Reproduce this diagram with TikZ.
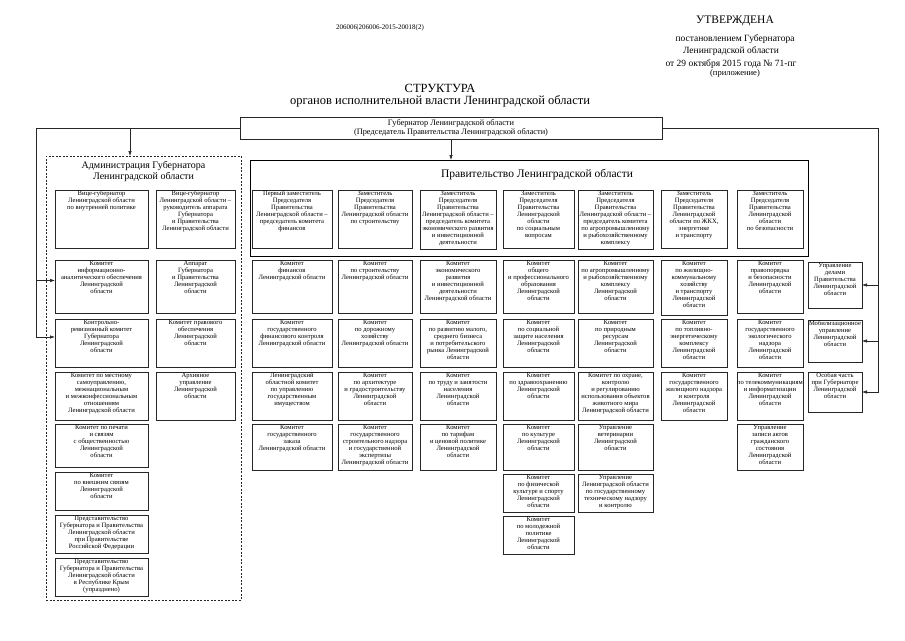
\documentclass[tikz,border=0pt]{standalone}
\usepackage{fontspec}
\setmainfont{Liberation Serif}
\usetikzlibrary{arrows.meta}
\newcommand\obox[6]{%
  \node[obx, minimum width={(#4-#2)*1pt}, minimum height={(#5-#3)*1pt}, anchor=north west,
    label={[obtxt]north:{#6}}] (#1) at (#2,#3) {};}
\begin{document}
\begin{tikzpicture}[x=1pt,y=-1pt,
  obx/.style={draw=black!85, line width=0.6pt, inner sep=0pt, outer sep=0pt},
  obtxt/.style={anchor=north, align=center, inner sep=0.8pt, font=\fontsize{6.6}{7.0}\selectfont},
  ln/.style={line width=0.6pt, draw=black!85},
  arr/.style={ln, -{Latex[length=5pt,width=3.5pt]}},
  hdr/.style={inner sep=0pt, font=\fontsize{9.5}{10}\selectfont}
]
\useasboundingbox[fill=white] (0,0) rectangle (905,640);

% header
\node[inner sep=0pt, font=\fontsize{7}{7.5}\selectfont] (num) at (380,28) {206006|206006-2015-20018(2)};
\node[hdr, font=\fontsize{11.5}{12}\selectfont] (utv) at (735,21) {УТВЕРЖДЕНА};
\node[hdr] (p1) at (735,39) {постановлением Губернатора};
\node[hdr] (p2) at (731,51) {Ленинградской области};
\node[hdr] (p3) at (731,64) {от 29 октября 2015 года № 71-пг};
\node[hdr, font=\fontsize{8.5}{9}\selectfont] (p4) at (735,73) {(приложение)};
\node[hdr, font=\fontsize{12.5}{13}\selectfont] (t1) at (440,88) {СТРУКТУРА};
\node[hdr, font=\fontsize{12.5}{13}\selectfont] (t2) at (440,101) {органов исполнительной власти Ленинградской области};

% governor
\node[obx, minimum width=422pt, minimum height=22pt, anchor=north west, align=center,
  font=\fontsize{8.3}{9.8}\selectfont] (gub) at (240,117)
  {Губернатор Ленинградской области\\(Председатель Правительства Ленинградской области)};

% administration (dashed)
\node[obx, dashed, dash pattern=on 2pt off 1.5pt, minimum width=195pt, minimum height=444pt, anchor=north west,
  label={[anchor=north, align=center, inner sep=0pt, yshift=-5pt, font=\fontsize{10}{11.5}\selectfont]north:{Администрация Губернатора\\Ленинградской области}}]
  (adm) at (46,156) {};

% government
\node[obx, draw=black, line width=0.9pt, minimum width=558pt, minimum height=96pt, anchor=north west,
  label={[anchor=north, inner sep=0pt, yshift=-9pt, xshift=8pt, font=\fontsize{11.5}{12}\selectfont]north:{Правительство Ленинградской области}}]
  (pr) at (250,160) {};

% administration boxes
\obox{a1l}{55}{190}{148}{248}{Вице-губернатор\\Ленинградской области\\по внутренней политике}
\obox{a1r}{156}{190}{235}{248}{Вице-губернатор\\Ленинградской области –\\руководитель аппарата\\Губернатора\\и Правительства\\Ленинградской области}
\obox{a2l}{55}{260}{148}{313}{Комитет\\информационно-\\аналитического обеспечения\\Ленинградской\\области}
\obox{a2r}{156}{260}{235}{313}{Аппарат\\Губернатора\\и Правительства\\Ленинградской\\области}
\obox{a3l}{55}{319}{148}{367}{Контрольно-\\ревизионный комитет\\Губернатора\\Ленинградской\\области}
\obox{a3r}{156}{319}{235}{367}{Комитет правового\\обеспечения\\Ленинградской\\области}
\obox{a4l}{55}{372}{148}{420}{Комитет по местному\\самоуправлению,\\межнациональным\\и межконфессиональным\\отношениям\\Ленинградской области}
\obox{a4r}{156}{372}{235}{420}{Архивное\\управление\\Ленинградской\\области}
\obox{a5l}{55}{424}{148}{467}{Комитет по печати\\и связям\\с общественностью\\Ленинградской\\области}
\obox{a6l}{55}{472}{148}{510}{Комитет\\по внешним связям\\Ленинградской\\области}
\obox{a7l}{55}{515}{148}{553}{Представительство\\Губернатора и Правительства\\Ленинградской области\\при Правительстве\\Российской Федерации}
\obox{a8l}{55}{558}{148}{596}{Представительство\\Губернатора и Правительства\\Ленинградской области\\в Республике Крым\\(упразднено)}

% government row 1
\obox{g11}{252}{190}{332}{248}{Первый заместитель\\Председателя\\Правительства\\Ленинградской области –\\председатель комитета\\финансов}
\obox{g12}{338}{190}{412}{248}{Заместитель\\Председателя\\Правительства\\Ленинградской области\\по строительству}
\obox{g13}{420}{190}{496}{249}{Заместитель\\Председателя\\Правительства\\Ленинградской области –\\председатель комитета\\экономического развития\\и инвестиционной\\деятельности}
\obox{g14}{503}{190}{574}{248}{Заместитель\\Председателя\\Правительства\\Ленинградской\\области\\по социальным\\вопросам}
\obox{g15}{578}{190}{653}{249}{Заместитель\\Председателя\\Правительства\\Ленинградской области –\\председатель комитета\\по агропромышленному\\и рыбохозяйственному\\комплексу}
\obox{g16}{661}{190}{727}{248}{Заместитель\\Председателя\\Правительства\\Ленинградской\\области по ЖКХ,\\энергетике\\и транспорту}
\obox{g17}{737}{190}{803}{248}{Заместитель\\Председателя\\Правительства\\Ленинградской\\области\\по безопасности}

% row 2
\obox{g21}{252}{260}{332}{313}{Комитет\\финансов\\Ленинградской области}
\obox{g22}{338}{260}{412}{313}{Комитет\\по строительству\\Ленинградской области}
\obox{g23}{420}{260}{496}{313}{Комитет\\экономического\\развития\\и инвестиционной\\деятельности\\Ленинградской области}
\obox{g24}{503}{260}{574}{313}{Комитет\\общего\\и профессионального\\образования\\Ленинградской\\области}
\obox{g25}{578}{260}{653}{313}{Комитет\\по агропромышленному\\и рыбохозяйственному\\комплексу\\Ленинградской\\области}
\obox{g26}{661}{260}{727}{315}{Комитет\\по жилищно-\\коммунальному\\хозяйству\\и транспорту\\Ленинградской\\области}
\obox{g27}{737}{260}{803}{313}{Комитет\\правопорядка\\и безопасности\\Ленинградской\\области}
\obox{g28}{808}{262}{862}{308}{Управление\\делами\\Правительства\\Ленинградской\\области}

% row 3
\obox{g31}{252}{319}{332}{367}{Комитет\\государственного\\финансового контроля\\Ленинградской области}
\obox{g32}{338}{319}{412}{367}{Комитет\\по дорожному\\хозяйству\\Ленинградской области}
\obox{g33}{420}{319}{496}{367}{Комитет\\по развитию малого,\\среднего бизнеса\\и потребительского\\рынка Ленинградской\\области}
\obox{g34}{503}{319}{574}{367}{Комитет\\по социальной\\защите населения\\Ленинградской\\области}
\obox{g35}{578}{319}{653}{367}{Комитет\\по природным\\ресурсам\\Ленинградской\\области}
\obox{g36}{661}{319}{727}{367}{Комитет\\по топливно-\\энергетическому\\комплексу\\Ленинградской\\области}
\obox{g37}{737}{319}{803}{367}{Комитет\\государственного\\экологического\\надзора\\Ленинградской\\области}
\obox{g38}{808}{320}{862}{362}{Мобилизационное\\управление\\Ленинградской\\области}

% row 4
\obox{g41}{252}{372}{332}{420}{Ленинградский\\областной комитет\\по управлению\\государственным\\имуществом}
\obox{g42}{338}{372}{412}{420}{Комитет\\по архитектуре\\и градостроительству\\Ленинградской\\области}
\obox{g43}{420}{372}{496}{420}{Комитет\\по труду  и занятости\\населения\\Ленинградской\\области}
\obox{g44}{503}{372}{574}{420}{Комитет\\по здравоохранению\\Ленинградской\\области}
\obox{g45}{578}{372}{653}{420}{Комитет  по охране,\\контролю\\и регулированию\\использования объектов\\животного мира\\Ленинградской области}
\obox{g46}{661}{372}{727}{420}{Комитет\\государственного\\жилищного надзора\\и контроля\\Ленинградской\\области}
\obox{g47}{737}{372}{803}{420}{Комитет\\по телекоммуникациям\\и информатизации\\Ленинградской\\области}
\obox{g48}{808}{372}{862}{412}{Особая часть\\при Губернаторе\\Ленинградской\\области}

% row 5
\obox{g51}{252}{424}{332}{470}{Комитет\\государственного\\заказа\\Ленинградской области}
\obox{g52}{338}{424}{412}{470}{Комитет\\государственного\\строительного надзора\\и государственной\\экспертизы\\Ленинградской области}
\obox{g53}{420}{424}{496}{470}{Комитет\\по тарифам\\и ценовой политике\\Ленинградской\\области}
\obox{g54}{503}{424}{574}{470}{Комитет\\по культуре\\Ленинградской\\области}
\obox{g55}{578}{424}{653}{470}{Управление\\ветеринарии\\Ленинградской\\области}
\obox{g57}{737}{424}{803}{470}{Управление\\записи актов\\гражданского\\состояния\\Ленинградской\\области}

% rows 6-7
\obox{g64}{503}{474}{574}{512}{Комитет\\по физической\\культуре и спорту\\Ленинградской\\области}
\obox{g65}{578}{474}{653}{512}{Управление\\Ленинградской области\\по государственному\\техническому надзору\\и контролю}
\obox{g74}{503}{516}{574}{554}{Комитет\\по молодежной\\политике\\Ленинградской\\области}

% connectors
\coordinate (lt) at (36,128);
\coordinate (rt) at (878,128);
\coordinate (ad) at (130,128);
\draw[ln] (gub.west) -- (lt);
\draw[ln] (gub.east) -- (rt);
\draw[arr] (lt) |- ([yshift=6pt]a2l.west);
\draw[arr] (lt) |- ([yshift=6pt]a3l.west);
\draw[arr] (ad) -- (ad |- adm.north);
\draw[arr] (gub.south) -- (gub.south |- pr.north);
\draw[arr] (rt) |- (g28.east);
\draw[arr] (rt) |- (g38.east);
\draw[arr] (rt) |- (g48.east);
\end{tikzpicture}
\end{document}
